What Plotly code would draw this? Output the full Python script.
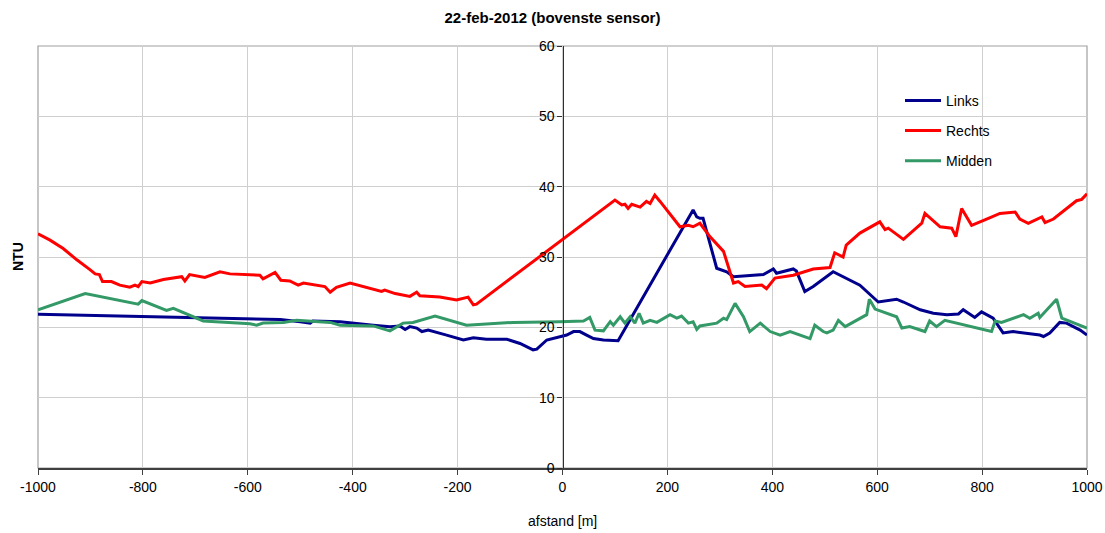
import plotly.graph_objects as go

# Links (blue)
links_x = [-1000, -538, -500, -481, -476, -424, -361, -329, -310, -300, -291, -278, -268, -256, -221, -189, -170, -145, -106, -81, -56, -49, -30, -5, 8, 21, 33, 46, 59, 78, 106, 249, 256, 262, 268, 294, 313, 326, 383, 402, 408, 440, 446, 462, 478, 516, 529, 567, 602, 624, 637, 650, 682, 707, 720, 733, 755, 764, 786, 799, 821, 840, 859, 910, 917, 929, 948, 961, 987, 1000]
links_y = [21.85, 21.1, 20.8, 20.6, 20.9, 20.8, 20.3, 20.1, 20.2, 19.7, 20.1, 19.9, 19.4, 19.6, 18.9, 18.2, 18.5, 18.3, 18.3, 17.7, 16.8, 16.9, 18.2, 18.7, 18.9, 19.4, 19.4, 18.9, 18.4, 18.2, 18.1, 36.7, 35.7, 35.5, 35.5, 28.4, 27.9, 27.2, 27.5, 28.3, 27.7, 28.3, 28.0, 25.1, 25.8, 27.9, 27.4, 26.0, 23.6, 23.9, 24.0, 23.6, 22.5, 22.0, 21.9, 21.8, 21.9, 22.5, 21.4, 22.2, 21.3, 19.2, 19.4, 18.9, 18.7, 19.2, 20.7, 20.6, 19.6, 18.9]

# Rechts (red)
rechts_x = [-1000, -977, -952, -926, -901, -891, -883, -877, -860, -844, -825, -815, -809, -802, -786, -761, -726, -720, -711, -682, -653, -634, -577, -571, -548, -537, -520, -504, -494, -453, -443, -431, -405, -373, -345, -339, -319, -291, -278, -272, -234, -202, -180, -170, -164, 100, 113, 119, 125, 132, 148, 160, 167, 176, 186, 224, 240, 249, 262, 281, 307, 326, 335, 348, 380, 389, 405, 440, 478, 510, 519, 535, 541, 567, 605, 615, 621, 650, 685, 691, 720, 742, 750, 761, 767, 780, 812, 834, 863, 872, 888, 914, 920, 936, 980, 990, 1000]
rechts_y = [33.3, 32.4, 31.2, 29.6, 28.2, 27.6, 27.5, 26.5, 26.5, 26.0, 25.7, 26.0, 25.8, 26.5, 26.3, 26.8, 27.2, 26.6, 27.5, 27.1, 27.9, 27.6, 27.4, 26.9, 27.8, 26.7, 26.6, 26.0, 26.3, 25.8, 25.0, 25.7, 26.3, 25.7, 25.1, 25.3, 24.8, 24.4, 25.0, 24.5, 24.3, 23.9, 24.3, 23.2, 23.3, 38.1, 37.4, 37.5, 36.9, 37.5, 37.1, 37.9, 37.6, 38.8, 37.9, 34.3, 34.5, 34.3, 34.8, 32.9, 30.8, 26.3, 26.5, 25.8, 26.0, 25.5, 27.0, 27.4, 28.3, 28.5, 30.6, 30.0, 31.7, 33.4, 35.0, 33.9, 34.1, 32.5, 34.8, 36.2, 34.3, 34.1, 32.9, 36.9, 36.2, 34.5, 35.5, 36.2, 36.4, 35.4, 34.8, 35.7, 34.9, 35.4, 38.0, 38.2, 39.0]

# Midden (green)
midden_x = [-1000, -910, -809, -802, -755, -742, -685, -596, -583, -571, -532, -507, -443, -424, -361, -329, -304, -285, -243, -221, -183, -94, -43, -5, 40, 52, 62, 78, 91, 97, 110, 119, 129, 138, 146, 154, 167, 180, 205, 218, 227, 240, 249, 256, 262, 294, 307, 313, 329, 345, 357, 377, 396, 415, 434, 472, 481, 497, 504, 516, 526, 539, 580, 585, 596, 637, 647, 662, 691, 700, 713, 729, 818, 825, 837, 879, 891, 907, 910, 942, 952, 1000]
midden_y = [22.5, 24.8, 23.3, 23.8, 22.4, 22.7, 20.9, 20.5, 20.3, 20.6, 20.7, 21.0, 20.7, 20.3, 20.2, 19.5, 20.6, 20.7, 21.6, 21.1, 20.3, 20.7, 20.7, 20.8, 20.9, 21.4, 19.6, 19.5, 20.8, 20.3, 21.5, 20.6, 21.5, 20.6, 22.0, 20.6, 21.0, 20.7, 21.8, 21.3, 21.6, 20.6, 20.8, 19.7, 20.2, 20.6, 21.3, 21.1, 23.4, 21.5, 19.4, 20.6, 19.4, 18.9, 19.4, 18.4, 20.3, 19.4, 19.2, 19.6, 21.0, 20.1, 21.8, 24.0, 22.6, 21.5, 19.9, 20.1, 19.4, 20.9, 20.1, 21.0, 19.4, 20.9, 20.7, 21.8, 21.3, 22.0, 21.4, 24.0, 21.3, 19.9]

x_ticks = [-1000, -800, -600, -400, -200, 0, 200, 400, 600, 800, 1000]
y_ticks = [0, 10, 20, 30, 40, 50, 60]

FONT = "Liberation Sans, Arial, sans-serif"

fig = go.Figure()
series = [("Links", links_x, links_y, "#00008C"),
          ("Rechts", rechts_x, rechts_y, "#FF0000"),
          ("Midden", midden_x, midden_y, "#339966")]
for name, xs, ys, col in series:
    fig.add_trace(go.Scatter(x=xs, y=ys, mode="lines", name=name, legendgroup=name,
                             line=dict(color=col, width=3)))

fig.update_layout(
    width=1105, height=533,
    margin=dict(l=38, r=18, t=46, b=65, autoexpand=False),
    paper_bgcolor="white", plot_bgcolor="white",
    font=dict(family=FONT, size=14, color="black"),
    title=dict(text="<b>22-feb-2012 (bovenste sensor)</b>", x=0.5, xanchor="center",
               y=1 - 18 / 533, yanchor="middle", font=dict(size=15, family=FONT)),
    showlegend=True,
    legend=dict(x=(900 - 38) / 1049, y=0.908, xanchor="left", yanchor="top",
                bgcolor="rgba(0,0,0,0)", borderwidth=0, tracegroupgap=9,
                itemwidth=36, font=dict(size=14, family=FONT)),
    xaxis=dict(range=[-1000, 1000], tickvals=x_ticks, ticktext=[str(v) for v in x_ticks],
               showgrid=True, gridcolor="#CFCFCF", gridwidth=1, zeroline=False,
               showline=True, linecolor="#404040", linewidth=1.5, ticks="outside",
               ticklen=5, tickcolor="#404040", tickfont=dict(size=14), automargin=False),
    yaxis=dict(range=[0, 60], tickvals=y_ticks, showgrid=True, gridcolor="#CFCFCF",
               gridwidth=1, zeroline=False, anchor="free", position=0.5,
               showline=True, linecolor="#303030", linewidth=1.2, ticks="outside",
               ticklen=5, tickcolor="#303030", tickfont=dict(size=14), automargin=False),
)

# plot-area frame
fig.add_shape(type="rect", xref="paper", yref="paper", x0=0, x1=1, y0=0, y1=1,
              line=dict(color="#A0A0A0", width=1.2), layer="below")
# white legend background box hiding the gridlines
fig.add_shape(type="rect", xref="paper", yref="paper",
              x0=(868 - 38) / 1049, x1=(1038 - 38) / 1049,
              y0=(468 - 175) / 422, y1=(468 - 85) / 422,
              line=dict(width=0), fillcolor="white", layer="between")

fig.add_annotation(text="<b>NTU</b>", xref="paper", yref="paper",
                   x=-20 / 1049, y=0.5, xanchor="center", yanchor="middle",
                   textangle=-90, showarrow=False, font=dict(size=14, family=FONT))
fig.add_annotation(text="afstand [m]", xref="paper", yref="paper",
                   x=0.5, y=-53 / 422, xanchor="center", yanchor="middle",
                   showarrow=False, font=dict(size=14, family=FONT))

fig.write_html("out.html")
